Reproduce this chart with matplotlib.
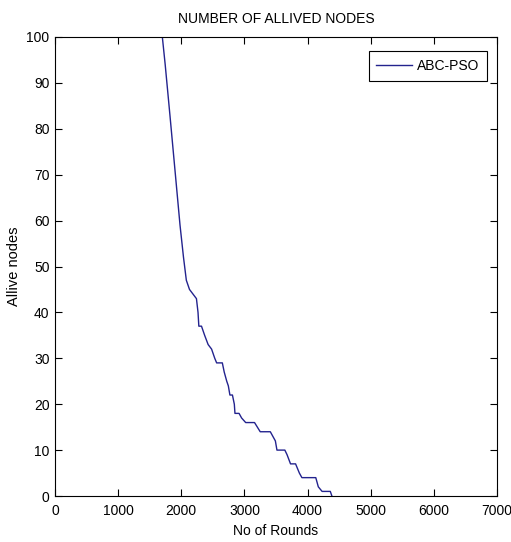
import numpy as np
import matplotlib
matplotlib.use("Agg")
import matplotlib.pyplot as plt

plt.rcParams['font.family'] = ['Liberation Sans', 'DejaVu Sans']

# rounds vs alive nodes
rounds = [1700, 1745, 1820, 1900, 1980, 2035, 2080, 2130, 2185, 2240, 2265, 2278,
          2320, 2370, 2425, 2480, 2530, 2560, 2650, 2680, 2720, 2745, 2770, 2810,
          2840, 2850, 2915, 2955, 3020, 3040, 3160, 3250, 3410, 3490, 3515, 3640,
          3675, 3730, 3810, 3870, 3910, 4130, 4170, 4230, 4360, 4385]
alive = [100, 94, 83, 71, 59, 52, 47, 45, 44, 43, 40, 37,
         37, 35, 33, 32, 30, 29, 29, 27, 25, 24, 22, 22,
         20, 18, 18, 17, 16, 16, 16, 14, 14, 12, 10, 10,
         9, 7, 7, 5, 4, 4, 2, 1, 1, 0]

xticks = [0, 1000, 2000, 3000, 4000, 5000, 6000, 7000]
yticks = [0, 10, 20, 30, 40, 50, 60, 70, 80, 90, 100]

fig = plt.figure(figsize=(5.11, 5.42), dpi=100)
ax = fig.add_axes([55/511, 1-496/542, 442/511, 459/542])

ax.plot(rounds, alive, color='#23238e', lw=1.0, label='ABC-PSO')

ax.set_xlim(0, 7000)
ax.set_ylim(0, 100)
ax.set_xticks(xticks)
ax.set_yticks(yticks)
ax.tick_params(direction='in', length=5, width=0.8, top=True, right=True,
               labelsize=10, pad=4)
ax.tick_params(axis='x', pad=6)
for s in ax.spines.values():
    s.set_linewidth(0.8)

ax.set_title('NUMBER OF ALLIVED NODES', fontsize=10, pad=10)
ax.set_xlabel('No of Rounds', fontsize=10, labelpad=4)
ax.set_ylabel('Allive nodes', fontsize=10.5)
ax.yaxis.set_label_coords(-0.078, 0.5)

leg = ax.legend(loc='upper right', fontsize=10, fancybox=False, framealpha=1,
                edgecolor='black', handlelength=2.6, handletextpad=0.3,
                borderpad=0.55, bbox_to_anchor=(0.992, 0.984))
leg.get_frame().set_linewidth(0.8)

fig.savefig('out.png', dpi=100)
